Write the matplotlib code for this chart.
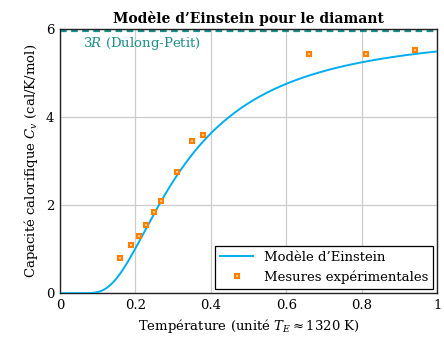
import numpy as np
import matplotlib
matplotlib.use("Agg")
import matplotlib.pyplot as plt

plt.rcParams['font.family'] = ['DejaVu Serif']
plt.rcParams['mathtext.fontset'] = 'dejavuserif'
plt.rcParams['axes.unicode_minus'] = False

# experimental points (T / T_E, C_v in cal/K/mol)
t_exp = [0.159, 0.188, 0.210, 0.228, 0.248, 0.268, 0.310, 0.350, 0.380, 0.660, 0.810, 0.940]
cv_exp = [0.80, 1.10, 1.30, 1.55, 1.85, 2.10, 2.75, 3.45, 3.60, 5.42, 5.42, 5.52]

R3 = 5.96  # 3R in cal/K/mol

# Einstein model
t = np.linspace(0.005, 1.0, 400)
x = 1.0 / t
cv_model = R3 * x**2 * np.exp(x) / (np.exp(x) - 1)**2

fig, ax = plt.subplots(figsize=(4.44, 3.39), dpi=100)
fig.subplots_adjust(left=0.135, right=0.985, top=0.915, bottom=0.135)

ax.plot(t, cv_model, color='#00aeef', lw=1.4, label="Modèle d’Einstein", zorder=3)
ax.plot(t_exp, cv_exp, ls='none', marker='s', ms=3.2, mfc='#ffcf90', mec='#ff8000',
        mew=1.5, label='Mesures expérimentales', zorder=4)
ax.axhline(R3, color='#1a8f8a', ls=(0, (3, 2)), lw=1.6, zorder=2)
ax.text(0.06, 5.66, r'$3R$ (Dulong-Petit)', color='#1a8f8a', fontsize=9.5, va='center')

ax.set_xlim(0, 1)
ax.set_ylim(0, 6)
ax.set_xticks([0, 0.2, 0.4, 0.6, 0.8, 1])
ax.set_xticklabels(['0', '0.2', '0.4', '0.6', '0.8', '1'])
ax.set_yticks([0, 2, 4, 6])
ax.set_yticklabels(['0', '2', '4', '6'])
ax.grid(True, color='#cccccc', lw=0.9)
ax.set_axisbelow(True)
ax.tick_params(length=0, labelsize=9.5, pad=4)
for s in ax.spines.values():
    s.set_color('#222222')
    s.set_linewidth(1.0)

ax.set_title('Modèle d’Einstein pour le diamant', fontsize=10, fontweight='bold', pad=4)
ax.set_xlabel(r'Température (unité $T_E \approx 1320$ K)', fontsize=9.5)
ax.set_ylabel(r'Capacité calorifique $C_v$ (cal/K/mol)', fontsize=9.5)

leg = ax.legend(loc='lower right', fontsize=9.5, fancybox=False, edgecolor='black',
                framealpha=1, handlelength=2.5, borderaxespad=0.3)
leg.get_frame().set_linewidth(0.9)

fig.savefig('out.png', dpi=100)
